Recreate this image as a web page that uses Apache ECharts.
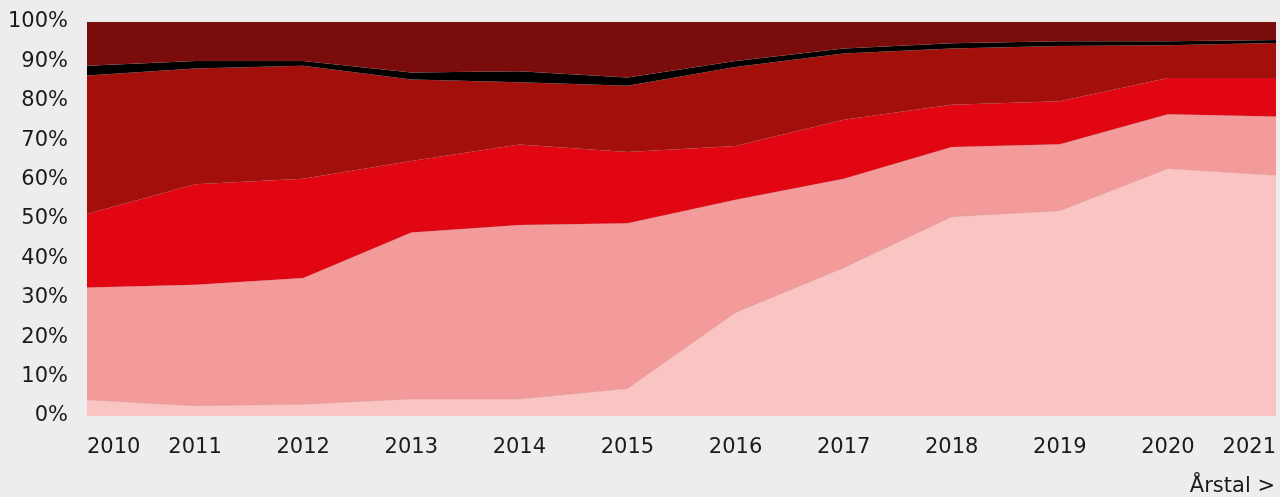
<!DOCTYPE html>
<html>
<head>
<meta charset="utf-8">
<script src="https://cdn.jsdelivr.net/npm/echarts@6/dist/echarts.min.js"></script>
<style>
html,body{margin:0;padding:0;background:#ededed;}
#chart{width:1280px;height:497px;}
</style>
</head>
<body>
<div id="chart"></div>
<script>
const years = ['2010','2011','2012','2013','2014','2015','2016','2017','2018','2019','2020','2021'];
const yTickLabels = ['0%','10%','20%','30%','40%','50%','60%','70%','80%','90%','100%'];
// Shares in percent, bottom layer first
const seriesA = [4.1, 2.6, 3.0, 4.3, 4.3, 7.0, 26.3, 37.6, 50.6, 52.1, 62.8, 61.1];
const seriesB = [28.5, 30.7, 32.0, 42.3, 44.2, 41.9, 28.6, 22.6, 17.7, 16.9, 13.8, 14.9];
const seriesC = [18.7, 25.5, 25.2, 18.1, 20.4, 18.1, 13.6, 15.0, 10.7, 10.9, 9.2, 9.8];
const seriesD = [35.1, 29.4, 28.7, 20.7, 15.8, 16.8, 20.1, 16.8, 14.3, 14.0, 8.3, 8.9];
const seriesE = [2.5, 1.9, 1.2, 1.8, 2.8, 2.1, 1.5, 1.3, 1.3, 1.2, 1.0, 0.7];
const seriesF = [11.1, 9.9, 9.9, 12.8, 12.5, 14.1, 9.9, 6.7, 5.4, 4.9, 4.9, 4.6];

const layers = [
  {name:'A', data: seriesA, color:'#f9c4c2'},
  {name:'B', data: seriesB, color:'#f39b9a'},
  {name:'C', data: seriesC, color:'#e20613'},
  {name:'D', data: seriesD, color:'#a30f0b'},
  {name:'E', data: seriesE, color:'#000000'},
  {name:'F', data: seriesF, color:'#7a0c0c'}
];

const FONT = 'DejaVu Sans';
const chart = echarts.init(document.getElementById('chart'), null, {renderer:'canvas'});
chart.setOption({
  backgroundColor:'#ededed',
  animation:false,
  grid:{left:87, right:4, top:22, bottom:81, containLabel:false},
  xAxis:{
    type:'category',
    data: years,
    boundaryGap:false,
    axisLine:{show:false},
    axisTick:{show:false},
    splitLine:{show:false},
    axisLabel:{
      color:'#1a1a1a', fontFamily:FONT, fontSize:21, margin:21,
      interval:0, alignMinLabel:'left', alignMaxLabel:'right'
    }
  },
  yAxis:{
    type:'value', min:0, max:100, interval:10,
    axisLine:{show:false},
    axisTick:{show:false},
    splitLine:{show:false},
    axisLabel:{
      color:'#1a1a1a', fontFamily:FONT, fontSize:21, margin:19,
      formatter: v => yTickLabels[Math.round(v/10)]
    }
  },
  graphic:[{
    type:'text', right:5, top:476,
    style:{text:'Årstal >', fill:'#1a1a1a', font:'21px "DejaVu Sans"', textAlign:'right'}
  }],
  series: layers.map(l => ({
    name:l.name, type:'line', stack:'total', data:l.data,
    symbol:'none', showSymbol:false,
    lineStyle:{width:0.5, color:'rgba(150,90,90,0.3)'},
    areaStyle:{color:l.color, opacity:1},
    itemStyle:{color:l.color}
  }))
});
</script>
</body>
</html>
